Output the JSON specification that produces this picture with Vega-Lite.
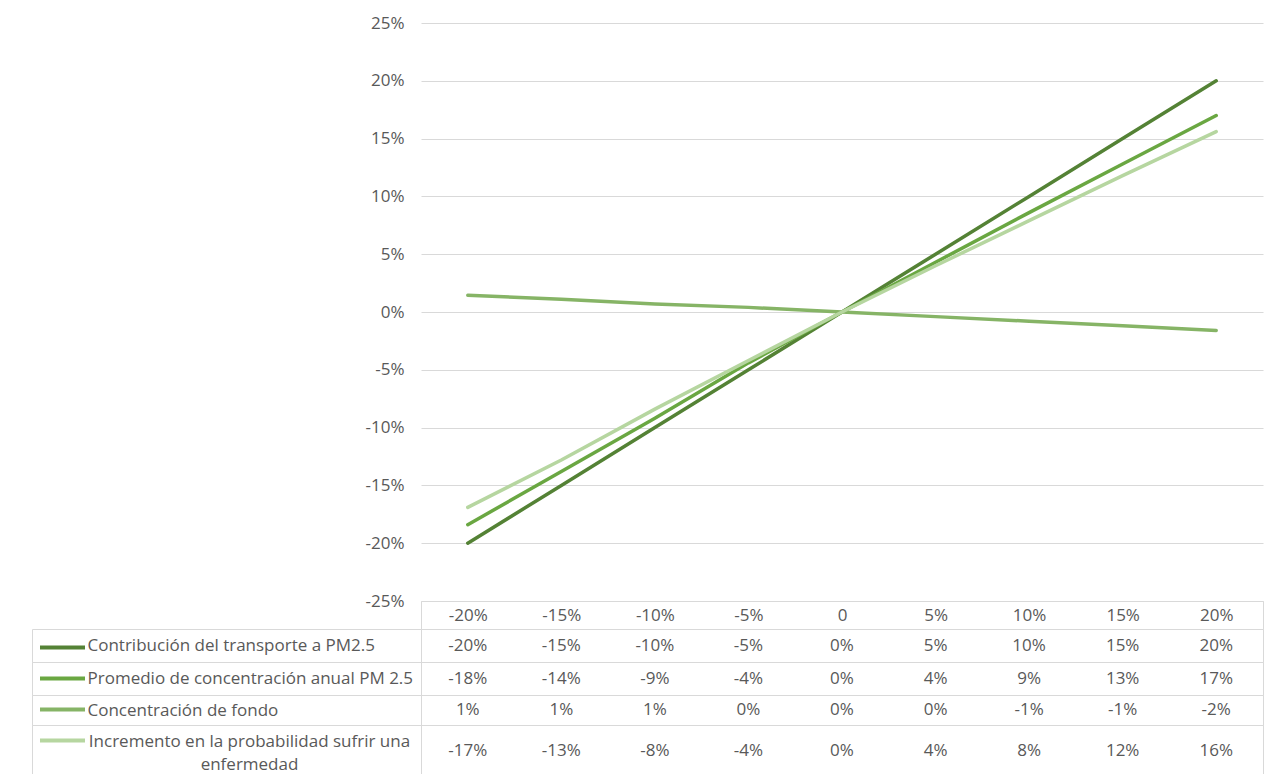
{
  "$schema": "https://vega.github.io/schema/vega-lite/v6.json",
  "padding": {"left": 31, "top": 14, "right": 0, "bottom": 0},
  "background": "white",
  "spacing": 0,
  "bounds": "flush",
  "data": {
    "values": [
      {"s": "Contribución del transporte a PM2.5", "x": -0.20, "v": -0.20},
      {"s": "Contribución del transporte a PM2.5", "x": -0.15, "v": -0.15},
      {"s": "Contribución del transporte a PM2.5", "x": -0.10, "v": -0.10},
      {"s": "Contribución del transporte a PM2.5", "x": -0.05, "v": -0.05},
      {"s": "Contribución del transporte a PM2.5", "x": 0, "v": 0},
      {"s": "Contribución del transporte a PM2.5", "x": 0.05, "v": 0.05},
      {"s": "Contribución del transporte a PM2.5", "x": 0.10, "v": 0.10},
      {"s": "Contribución del transporte a PM2.5", "x": 0.15, "v": 0.15},
      {"s": "Contribución del transporte a PM2.5", "x": 0.20, "v": 0.20},
      {"s": "Promedio de concentración anual PM 2.5", "x": -0.20, "v": -0.184},
      {"s": "Promedio de concentración anual PM 2.5", "x": -0.15, "v": -0.138},
      {"s": "Promedio de concentración anual PM 2.5", "x": -0.10, "v": -0.092},
      {"s": "Promedio de concentración anual PM 2.5", "x": -0.05, "v": -0.044},
      {"s": "Promedio de concentración anual PM 2.5", "x": 0, "v": 0},
      {"s": "Promedio de concentración anual PM 2.5", "x": 0.05, "v": 0.043},
      {"s": "Promedio de concentración anual PM 2.5", "x": 0.10, "v": 0.086},
      {"s": "Promedio de concentración anual PM 2.5", "x": 0.15, "v": 0.128},
      {"s": "Promedio de concentración anual PM 2.5", "x": 0.20, "v": 0.170},
      {"s": "Concentración de fondo", "x": -0.20, "v": 0.0145},
      {"s": "Concentración de fondo", "x": -0.15, "v": 0.011},
      {"s": "Concentración de fondo", "x": -0.10, "v": 0.007},
      {"s": "Concentración de fondo", "x": -0.05, "v": 0.004},
      {"s": "Concentración de fondo", "x": 0, "v": 0},
      {"s": "Concentración de fondo", "x": 0.05, "v": -0.004},
      {"s": "Concentración de fondo", "x": 0.10, "v": -0.008},
      {"s": "Concentración de fondo", "x": 0.15, "v": -0.012},
      {"s": "Concentración de fondo", "x": 0.20, "v": -0.016},
      {"s": "Incremento en la probabilidad sufrir una enfermedad", "x": -0.20, "v": -0.169},
      {"s": "Incremento en la probabilidad sufrir una enfermedad", "x": -0.15, "v": -0.128},
      {"s": "Incremento en la probabilidad sufrir una enfermedad", "x": -0.10, "v": -0.084},
      {"s": "Incremento en la probabilidad sufrir una enfermedad", "x": -0.05, "v": -0.042},
      {"s": "Incremento en la probabilidad sufrir una enfermedad", "x": 0, "v": 0},
      {"s": "Incremento en la probabilidad sufrir una enfermedad", "x": 0.05, "v": 0.040},
      {"s": "Incremento en la probabilidad sufrir una enfermedad", "x": 0.10, "v": 0.079},
      {"s": "Incremento en la probabilidad sufrir una enfermedad", "x": 0.15, "v": 0.118},
      {"s": "Incremento en la probabilidad sufrir una enfermedad", "x": 0.20, "v": 0.156}
    ]
  },
  "vconcat": [
    {
      "width": 842,
      "height": 578,
      "view": {"stroke": null},
      "mark": {"type": "line", "strokeWidth": 3.5, "strokeCap": "round"},
      "encoding": {
        "x": {"field": "x", "type": "ordinal", "axis": null},
        "y": {
          "field": "v",
          "type": "quantitative",
          "scale": {"domain": [-0.25, 0.25], "nice": false},
          "axis": {
            "values": [-0.25, -0.2, -0.15, -0.1, -0.05, 0, 0.05, 0.1, 0.15, 0.2, 0.25],
            "format": ".0%",
            "domain": false,
            "ticks": false,
            "grid": true,
            "labelPadding": 17,
            "title": null
          }
        },
        "color": {
          "field": "s",
          "type": "nominal",
          "scale": {
            "domain": [
              "Contribución del transporte a PM2.5",
              "Promedio de concentración anual PM 2.5",
              "Concentración de fondo",
              "Incremento en la probabilidad sufrir una enfermedad"
            ],
            "range": ["#548235", "#6AA742", "#86B466", "#B6D6A0"]
          },
          "legend": {
            "orient": "none",
            "legendX": -383,
            "legendY": 609,
            "title": null,
            "symbolType": "stroke",
            "symbolSize": 2025,
            "symbolStrokeWidth": 4,
            "clipHeight": 31,
            "rowPadding": 0,
            "labelExpr": "''"
          }
        }
      }
    },
    {
      "width": 842,
      "height": 28,
      "transform": [{"filter": {"field": "s", "equal": "Contribución del transporte a PM2.5"}}],
      "mark": {"type": "point", "opacity": 0},
      "encoding": {
        "x": {
          "field": "x",
          "type": "ordinal",
          "axis": {
            "orient": "top",
            "domain": false,
            "ticks": false,
            "labelAngle": 0,
            "labelPadding": -14,
            "labelBaseline": "middle",
            "labelExpr": "datum.value == 0 ? '0' : format(datum.value, '.0%')",
            "title": null
          }
        }
      }
    },
    {
      "width": 842,
      "height": 33,
      "transform": [{"filter": {"field": "s", "equal": "Contribución del transporte a PM2.5"}}],
      "mark": {"type": "text"},
      "encoding": {
        "x": {"field": "x", "type": "ordinal", "axis": null},
        "y": {
          "field": "s",
          "type": "nominal",
          "scale": {"type": "band", "paddingInner": 0, "paddingOuter": 0},
          "axis": {"title": null, "offset": 389, "tickSize": -389, "tickBand": "extent", "labelPadding": 334, "labelAlign": "left", "labelLimit": 400}
        },
        "text": {"field": "v", "type": "quantitative", "format": ".0%"}
      }
    },
    {
      "width": 842,
      "height": 33,
      "transform": [{"filter": {"field": "s", "equal": "Promedio de concentración anual PM 2.5"}}],
      "mark": {"type": "text"},
      "encoding": {
        "x": {"field": "x", "type": "ordinal", "axis": null},
        "y": {
          "field": "s",
          "type": "nominal",
          "scale": {"type": "band", "paddingInner": 0, "paddingOuter": 0},
          "axis": {"title": null, "offset": 389, "tickSize": -389, "tickBand": "extent", "labelPadding": 334, "labelAlign": "left", "labelLimit": 400}
        },
        "text": {"field": "v", "type": "quantitative", "format": ".0%"}
      }
    },
    {
      "width": 842,
      "height": 30,
      "transform": [{"filter": {"field": "s", "equal": "Concentración de fondo"}}],
      "mark": {"type": "text"},
      "encoding": {
        "x": {"field": "x", "type": "ordinal", "axis": null},
        "y": {
          "field": "s",
          "type": "nominal",
          "scale": {"type": "band", "paddingInner": 0, "paddingOuter": 0},
          "axis": {"title": null, "offset": 389, "tickSize": -389, "tickBand": "extent", "labelPadding": 334, "labelAlign": "left", "labelLimit": 400}
        },
        "text": {"field": "v", "type": "quantitative", "format": ".0%"}
      }
    },
    {
      "width": 842,
      "height": 52,
      "transform": [{"filter": {"field": "s", "equal": "Incremento en la probabilidad sufrir una enfermedad"}}],
      "mark": {"type": "text"},
      "encoding": {
        "x": {"field": "x", "type": "ordinal", "axis": null},
        "y": {
          "field": "s",
          "type": "nominal",
          "scale": {"type": "band", "paddingInner": 0, "paddingOuter": 0},
          "axis": {
            "title": null,
            "offset": 389,
            "tickSize": -389,
            "tickBand": "extent",
            "labelPadding": 172,
            "labelAlign": "center",
            "labelOffset": -10,
            "labelLimit": 400,
            "labelLineHeight": 23,
            "labelExpr": "datum.label == 'Incremento en la probabilidad sufrir una enfermedad' ? ['Incremento en la probabilidad sufrir una', 'enfermedad'] : datum.label"
          }
        },
        "text": {"field": "v", "type": "quantitative", "format": ".0%"}
      }
    }
  ],
  "config": {
    "font": "Open Sans",
    "view": {"stroke": "#D9D9D9"},
    "axis": {
      "labelFont": "Open Sans",
      "labelFontSize": 17,
      "labelColor": "#595959",
      "gridColor": "#D9D9D9",
      "domainColor": "#D9D9D9",
      "tickColor": "#D9D9D9"
    },
    "text": {"font": "Open Sans", "fontSize": 17, "color": "#595959"},
    "locale": {
      "number": {"decimal": ".", "thousands": ",", "grouping": [3], "currency": ["$", ""], "minus": "-"}
    }
  }
}
